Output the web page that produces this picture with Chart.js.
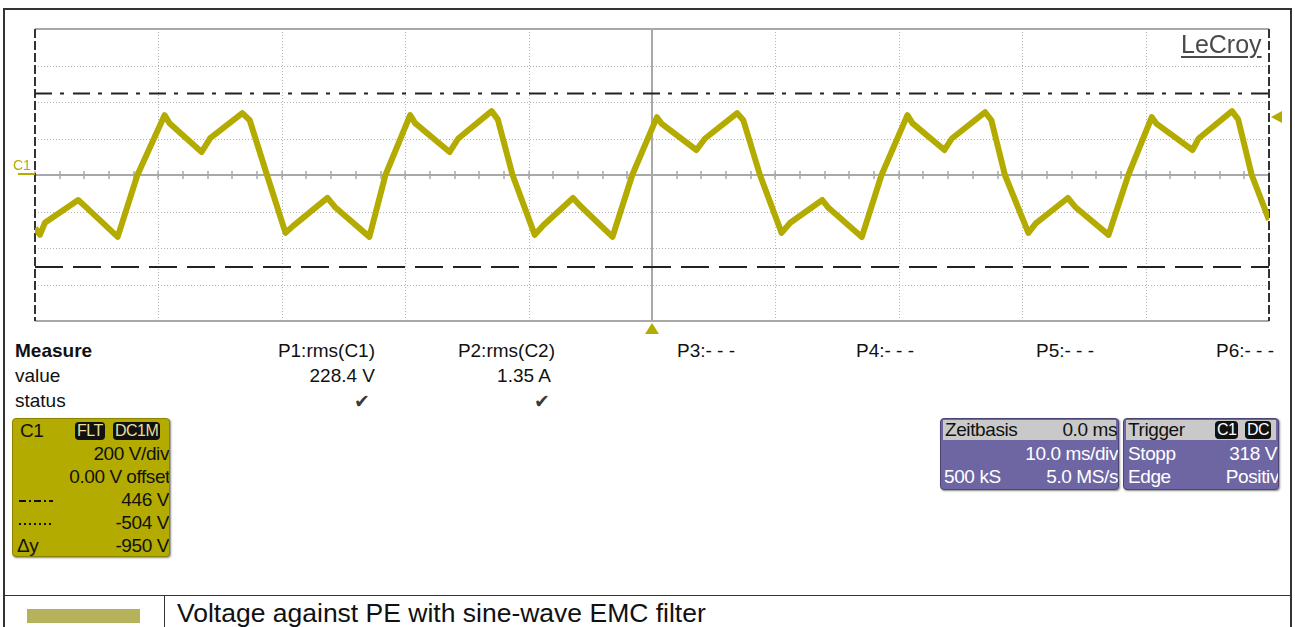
<!DOCTYPE html>
<html>
<head>
<meta charset="utf-8">
<title>Voltage against PE with sine-wave EMC filter</title>
<script src="https://cdn.jsdelivr.net/npm/chart.js@4.4.0/dist/chart.umd.min.js"></script>
<style>
    html, body { margin: 0; padding: 0; background: #fff; }
    body { width: 1295px; height: 627px; position: relative; overflow: hidden; font-family: "Liberation Sans", Arial, sans-serif; color: #111; }
    .abs { position: absolute; white-space: nowrap; }
    .line { position: absolute; background: #333; }
    .txt { position: absolute; white-space: nowrap; font-size: 19px; line-height: 22px; }
    .r { text-align: right; }
    #scope { position: absolute; left: 0; top: 0; }
    .logo { left: 1181px; top: 30px; font-size: 25px; color: #4a4a4a; text-decoration: underline; text-decoration-thickness: 2px; text-underline-offset: 3px; }
    .c1box { position: absolute; left: 12px; top: 418px; width: 156px; height: 137px; background: #b3ab00; border: 1px solid #8a8400; border-radius: 4px; box-shadow: 1px 1px 2px #888; overflow: hidden; }
    .c1box .txt, .pbox .txt { letter-spacing: -0.4px; }
    .badge { position: absolute; background: #111; color: #e6df9a; font-size: 16px; line-height: 18px; border-radius: 4px; padding: 0 2px; letter-spacing: -0.5px; }
    .pbox { position: absolute; top: 418px; height: 70px; background: #6e66a3; border: 1px solid #4b4575; border-radius: 4px; box-shadow: 1px 1px 2px #888; overflow: hidden; color: #fff; }
    .pbox .head { position: absolute; left: 2px; right: 2px; top: 1px; height: 20px; background: #c9c9c9; }
    .check { position: absolute; color: #3a3a3a; font-family: "DejaVu Sans", sans-serif; font-size: 19px; line-height: 22px; }
    .dk { color: #111; }
</style>
</head>
<body>

<!-- outer table frame -->
<div class="line" style="left:3px; top:8px; width:1288px; height:2px;"></div>
<div class="line" style="left:3px; top:8px; width:2px; height:619px;"></div>
<div class="line" style="left:1290px; top:8px; width:2px; height:619px;"></div>
<div class="line" style="left:3px; top:595px; width:1288px; height:1px;"></div>
<div class="line" style="left:164px; top:595px; width:1px; height:32px;"></div>

<canvas id="scope" width="1295" height="340"></canvas>

<div class="abs logo">LeCroy</div>

<!-- measurement table -->
<div class="txt" style="left:15px; top:340px; font-weight:bold;">Measure</div>
<div class="txt" style="left:15px; top:365px;">value</div>
<div class="txt" style="left:15px; top:390px;">status</div>
<div class="txt r" style="left:255px; width:120px; top:340px;">P1:rms(C1)</div>
<div class="txt r" style="left:435px; width:120px; top:340px;">P2:rms(C2)</div>
<div class="txt r" style="left:255px; width:120px; top:365px;">228.4 V</div>
<div class="txt r" style="left:431px; width:120px; top:365px;">1.35 A</div>
<div class="check" style="left:354px; top:390px;">✔</div>
<div class="check" style="left:534px; top:390px;">✔</div>
<div class="txt" style="left:677px; top:340px;">P3:- - -</div>
<div class="txt" style="left:856px; top:340px;">P4:- - -</div>
<div class="txt" style="left:1036px; top:340px;">P5:- - -</div>
<div class="txt" style="left:1216px; top:340px;">P6:- - -</div>

<!-- channel box -->
<div class="c1box">
    <div class="txt" style="left:7px; top:1px;">C1</div>
    <div class="badge" style="left:62px; top:3px;">FLT</div>
    <div class="badge" style="left:100px; top:3px;">DC1M</div>
    <div class="txt r" style="left:0; width:156px; top:24px;">200 V/div</div>
    <div class="txt r" style="left:0; width:157px; top:47px;">0.00 V<span style="letter-spacing:-0.8px;"> </span>offset</div>
    <div style="position:absolute; left:6px; top:81px; width:34px; height:2px; background:repeating-linear-gradient(90deg,#111 0 7px,transparent 7px 10px,#111 10px 12px,transparent 12px 15px);"></div>
    <div class="txt r" style="left:0; width:156px; top:70px;">446 V</div>
    <div style="position:absolute; left:6px; top:104px; width:34px; height:2px; background:repeating-linear-gradient(90deg,#111 0 2px,transparent 2px 5px);"></div>
    <div class="txt r" style="left:0; width:156px; top:93px;">-504 V</div>
    <div class="txt" style="left:4px; top:116px;">Δy</div>
    <div class="txt r" style="left:0; width:156px; top:116px;">-950 V</div>
</div>

<!-- timebase box -->
<div class="pbox" style="left:940px; width:177px;">
    <div class="head"></div>
    <div class="txt dk" style="left:4px; top:0;">Zeitbasis</div>
    <div class="txt r dk" style="left:0; width:176px; top:0;">0.0 ms</div>
    <div class="txt r" style="left:0; width:177px; top:24px;">10.0 ms/div</div>
    <div class="txt" style="left:3px; top:47px;">500 kS</div>
    <div class="txt r" style="left:0; width:177px; top:47px;">5.0 MS/s</div>
</div>

<!-- trigger box -->
<div class="pbox" style="left:1123px; width:154px;">
    <div class="head"></div>
    <div class="txt dk" style="left:4px; top:0;">Trigger</div>
    <div class="badge" style="left:91px; top:2px; color:#fff;">C1</div>
    <div class="badge" style="left:121px; top:2px; color:#fff;">DC</div>
    <div class="txt" style="left:4px; top:24px;">Stopp</div>
    <div class="txt r" style="left:0; width:153px; top:24px;">318 V</div>
    <div class="txt" style="left:4px; top:47px;">Edge</div>
    <div class="txt r" style="left:0; width:155px; top:47px;">Positiv</div>
</div>

<!-- legend row -->
<div class="abs" style="left:27px; top:609px; width:113px; height:14px; background:#b5b25b;"></div>
<div class="abs" style="left:177px; top:598px; font-size:26.5px; line-height:30px;">Voltage against PE with sine-wave EMC filter</div>

<script>
// time axis in ms, 10 ms/div
const tMs = [-50.0, -49.6, -49.2, -46.5, -45.8, -43.3, -41.7, -39.5, -39.1, -36.5, -35.8, -33.2, -32.6, -31.2,
    -29.7, -29.1, -26.3, -25.7, -22.9, -21.6, -19.6, -19.2, -16.4, -15.7, -13.0, -12.5, -11.3,
    -9.5, -8.8, -6.4, -5.8, -3.2, -1.6, 0.4, 0.8, 3.6, 4.3, 6.9, 7.4, 8.75,
    10.5, 11.2, 13.8, 14.3, 17.0, 18.6, 20.7, 21.1, 23.7, 24.3, 27.0, 27.5, 28.6,
    30.5, 31.1, 33.7, 34.3, 37.0, 38.6, 40.5, 40.9, 43.8, 44.3, 47.0, 47.5, 48.6, 50.0];
// channel C1 voltage, 200 V/div
const volts = [-290, -328, -262, -137, -180, -339, 0, 328, 284, 126, 202, 339, 300, 0,
    -317, -280, -125, -175, -339, 0, 328, 284, 126, 200, 350, 305, 0,
    -328, -275, -126, -170, -339, 0, 317, 280, 137, 200, 339, 300, 0,
    -317, -262, -137, -180, -340, 0, 328, 284, 137, 200, 344, 300, 0,
    -317, -265, -126, -175, -328, 0, 317, 280, 137, 200, 350, 305, 0, -246];

const cursorUpper = 446;   // dash-dot cursor
const cursorLower = -504;  // dashed cursor
const triggerLevel = 318;
const xDivs = [-50, -40, -30, -20, -10, 0, 10, 20, 30, 40, 50];
const yDivs = [-800, -600, -400, -200, 0, 200, 400, 600, 800];

const traceColor = '#b3ab00';

function cursorLine(level, dash) {
    return {
        data: [{ x: -50, y: level }, { x: 50, y: level }],
        borderColor: '#222',
        borderWidth: 2,
        borderDash: dash,
        pointRadius: 0,
        order: 2
    };
}

const scopeGrid = {
    id: 'scopeGrid',
    beforeDatasetsDraw(chart) {
        const { ctx, chartArea: a, scales: { x, y } } = chart;
        ctx.save();
        ctx.lineWidth = 1;
        ctx.strokeStyle = '#b4b4b4';
        ctx.setLineDash([1, 2]);
        xDivs.slice(1, -1).forEach(v => {
            if (v === 0) return;
            const px = Math.round(x.getPixelForValue(v)) + 0.5;
            ctx.beginPath(); ctx.moveTo(px, a.top); ctx.lineTo(px, a.bottom); ctx.stroke();
        });
        yDivs.slice(1, -1).forEach(v => {
            if (v === 0) return;
            const py = Math.round(y.getPixelForValue(v)) + 0.5;
            ctx.beginPath(); ctx.moveTo(a.left, py); ctx.lineTo(a.right, py); ctx.stroke();
        });

        // center axes with minor ticks
        ctx.setLineDash([]);
        ctx.strokeStyle = '#a8a8a8';
        ctx.lineWidth = 2;
        const cx = Math.round(x.getPixelForValue(0));
        const cy = Math.round(y.getPixelForValue(0));
        ctx.beginPath(); ctx.moveTo(a.left, cy); ctx.lineTo(a.right, cy); ctx.stroke();
        ctx.beginPath(); ctx.moveTo(cx, a.top); ctx.lineTo(cx, a.bottom); ctx.stroke();
        ctx.lineWidth = 1.5;
        for (let t = -50; t <= 50; t += 2) {
            const px = Math.round(x.getPixelForValue(t));
            ctx.beginPath(); ctx.moveTo(px, cy - 4); ctx.lineTo(px, cy + 4); ctx.stroke();
        }

        // top and bottom frame
        ctx.lineWidth = 2;
        ctx.beginPath(); ctx.moveTo(a.left, a.top); ctx.lineTo(a.right, a.top); ctx.stroke();
        ctx.beginPath(); ctx.moveTo(a.left, a.bottom); ctx.lineTo(a.right, a.bottom); ctx.stroke();
        // left and right frame (dark, segmented)
        ctx.strokeStyle = '#333';
        ctx.setLineDash([9, 3]);
        ctx.beginPath(); ctx.moveTo(a.left, a.top); ctx.lineTo(a.left, a.bottom); ctx.stroke();
        ctx.beginPath(); ctx.moveTo(a.right, a.top); ctx.lineTo(a.right, a.bottom); ctx.stroke();
        ctx.restore();
    },
    afterDatasetsDraw(chart) {
        const { ctx, chartArea: a, scales: { x, y } } = chart;
        ctx.save();
        ctx.fillStyle = traceColor;
        ctx.strokeStyle = traceColor;

        // trigger level marker on the right
        const ty = y.getPixelForValue(triggerLevel);
        ctx.beginPath();
        ctx.moveTo(a.right + 2, ty);
        ctx.lineTo(a.right + 13, ty - 6);
        ctx.lineTo(a.right + 13, ty + 6);
        ctx.closePath();
        ctx.fill();

        // trigger position marker below the grid
        const tx = x.getPixelForValue(0);
        ctx.beginPath();
        ctx.moveTo(tx, a.bottom + 2);
        ctx.lineTo(tx - 7, a.bottom + 13);
        ctx.lineTo(tx + 7, a.bottom + 13);
        ctx.closePath();
        ctx.fill();

        // channel ground marker
        const gy = y.getPixelForValue(0);
        ctx.font = '14px "Liberation Sans", Arial, sans-serif';
        ctx.textBaseline = 'alphabetic';
        ctx.fillText('C1', 13, gy - 5);
        ctx.lineWidth = 2;
        ctx.beginPath(); ctx.moveTo(18, gy - 1); ctx.lineTo(a.left, gy - 1); ctx.stroke();
        ctx.restore();
    }
};

function initScope() {
    const points = tMs.map((t, i) => ({ x: t, y: volts[i] }));

    new Chart(document.getElementById('scope'), {
        type: 'line',
        data: {
            datasets: [
                {
                    label: 'C1',
                    data: points,
                    borderColor: traceColor,
                    borderWidth: 6,
                    pointRadius: 0,
                    tension: 0,
                    borderJoinStyle: 'round',
                    order: 1
                },
                cursorLine(cursorUpper, [17, 8, 4, 9]),
                cursorLine(cursorLower, [28, 10])
            ]
        },
        options: {
            responsive: false,
            animation: false,
            layout: { padding: { left: 35, right: 26, top: 29, bottom: 19 } },
            scales: {
                x: { type: 'linear', min: -50, max: 50, display: false },
                y: { type: 'linear', min: -800, max: 800, display: false }
            },
            plugins: { legend: { display: false }, tooltip: { enabled: false } }
        },
        plugins: [scopeGrid]
    });
}

document.addEventListener('DOMContentLoaded', initScope);
</script>
</body>
</html>
